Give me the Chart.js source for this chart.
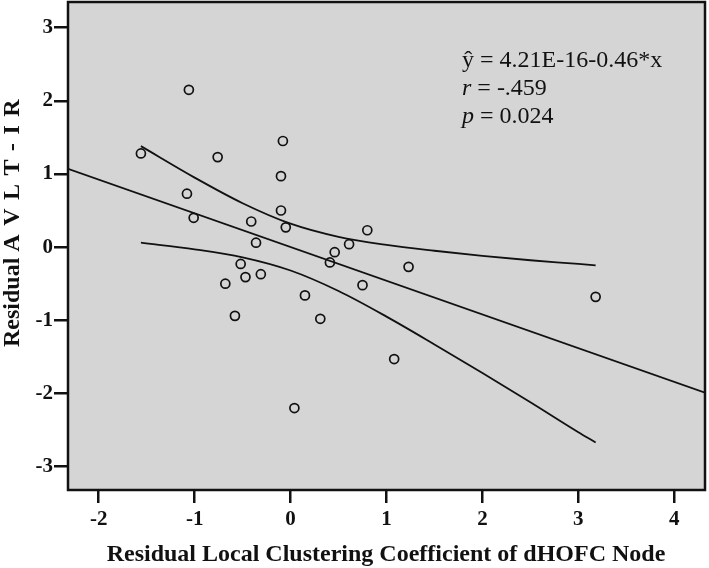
<!DOCTYPE html>
<html>
<head>
<meta charset="utf-8">
<script src="https://cdn.jsdelivr.net/npm/chart.js@4/dist/chart.umd.min.js"></script>
<style>
  body { margin: 0; background: #ffffff; }
  #wrap { width: 709px; height: 568px; position: relative; }
</style>
</head>
<body>
<div id="wrap"><canvas id="scatterChart"></canvas></div>
<script>
// residuals
var xVals = [-1.56, -1.06, -0.76, -0.08, -1.08, -1.01, -0.10, -0.10, -0.05, -0.41, -0.36, -0.52, -0.47, -0.31,
             -0.68, 0.46, 0.41, 0.61, -0.58, 0.15, 0.31, 0.04, 0.80, 0.75, 1.23, 1.08, 3.18];
var yVals = [1.28, 2.15, 1.23, 1.45, 0.73, 0.40, 0.97, 0.50, 0.27, 0.35, 0.06, -0.23, -0.41, -0.37,
             -0.50, -0.07, -0.21, 0.04, -0.94, -0.66, -0.98, -2.20, 0.23, -0.52, -0.27, -1.53, -0.68];

// fit line endpoints
var fitX = [-2.32, 4.32];
var fitY = [1.07, -1.99];

// confidence band
var bandX = [-1.56, -1, -0.5, 0, 0.5, 1, 1.5, 2, 2.5, 3, 3.18];
var bandUpper = [1.38, 0.95, 0.60, 0.32, 0.14, 0.03, -0.05, -0.12, -0.18, -0.23, -0.25];
var bandLower = [0.06, -0.03, -0.14, -0.32, -0.60, -0.95, -1.33, -1.72, -2.12, -2.53, -2.67];

var xTicks = [-2, -1, 0, 1, 2, 3, 4];
var yTicks = [-3, -2, -1, 0, 1, 2, 3];

var xTitle = 'Residual Local Clustering Coefficient of dHOFC Node';
var yTitleA = 'Residual ';
var yTitleB = 'AVLT-IR';

function toPoints(xs, ys) {
    return xs.map(function (x, i) { return { x: x, y: ys[i] }; });
}

var serif = '"Liberation Serif", "Times New Roman", serif';

var frame = {
    id: 'frame',
    beforeDatasetsDraw: function (chart) {
        var a = chart.chartArea, ctx = chart.ctx;
        ctx.save();
        ctx.fillStyle = '#d5d5d5';
        ctx.fillRect(a.left, a.top, a.right - a.left, a.bottom - a.top);
        ctx.restore();
    },
    afterDraw: function (chart) {
        var a = chart.chartArea, ctx = chart.ctx;
        ctx.save();
        ctx.strokeStyle = '#111';
        ctx.lineWidth = 2.5;
        ctx.strokeRect(a.left, a.top, a.right - a.left, a.bottom - a.top);

        // axis titles
        ctx.fillStyle = '#111';
        ctx.font = 'bold 24px ' + serif;
        ctx.textAlign = 'center';
        ctx.textBaseline = 'alphabetic';
        ctx.fillText(xTitle, 386, 561);

        // y title, second word is spaced out in the original
        ctx.translate(19, 347);
        ctx.rotate(-Math.PI / 2);
        ctx.textAlign = 'left';
        ctx.fillText(yTitleA, 0, 0);
        var pos = ctx.measureText(yTitleA).width;
        for (var i = 0; i < yTitleB.length; i++) {
            ctx.fillText(yTitleB[i], pos, 0);
            pos += ctx.measureText(yTitleB[i]).width + 8.5;
        }
        ctx.restore();

        // regression annotation
        ctx.save();
        ctx.fillStyle = '#111';
        ctx.textAlign = 'left';
        ctx.textBaseline = 'alphabetic';
        var x0 = 462;
        ctx.font = '24px ' + serif;
        ctx.fillText('\u0177 = 4.21E-16-0.46*x', x0, 67);
        ctx.font = 'italic 24px ' + serif;
        ctx.fillText('r', x0, 95);
        var w = ctx.measureText('r').width;
        ctx.font = '24px ' + serif;
        ctx.fillText(' = -.459', x0 + w, 95);
        ctx.font = 'italic 24px ' + serif;
        ctx.fillText('p', x0, 123);
        w = ctx.measureText('p').width;
        ctx.font = '24px ' + serif;
        ctx.fillText(' = 0.024', x0 + w, 123);
        ctx.restore();
    }
};

var lineStyle = {
    type: 'line',
    borderColor: '#111',
    borderWidth: 1.8,
    pointRadius: 0,
    fill: false
};

new Chart(document.getElementById('scatterChart'), {
    type: 'scatter',
    data: {
        datasets: [
            Object.assign({}, lineStyle, { data: toPoints(fitX, fitY) }),
            Object.assign({}, lineStyle, { data: toPoints(bandX, bandUpper), cubicInterpolationMode: 'monotone' }),
            Object.assign({}, lineStyle, { data: toPoints(bandX, bandLower), cubicInterpolationMode: 'monotone' }),
            {
                type: 'scatter',
                data: toPoints(xVals, yVals),
                pointRadius: 4.5,
                pointBorderWidth: 1.7,
                pointBorderColor: '#111',
                pointBackgroundColor: 'rgba(0,0,0,0)'
            }
        ]
    },
    options: {
        responsive: true,
        maintainAspectRatio: false,
        animation: false,
        layout: { autoPadding: false, padding: { top: 2, right: 4, left: 0, bottom: 0 } },
        plugins: {
            legend: { display: false },
            tooltip: { enabled: false }
        },
        scales: {
            x: {
                type: 'linear',
                min: -2.32,
                max: 4.32,
                afterFit: function (scale) {
                    scale.height = 78;
                    scale.paddingLeft = 0;
                    scale.paddingRight = 0;
                },
                afterBuildTicks: function (scale) {
                    scale.ticks = xTicks.map(function (v) { return { value: v }; });
                },
                border: { display: false },
                grid: { drawOnChartArea: false, tickLength: 13, color: '#111', lineWidth: 2.5 },
                ticks: {
                    padding: 4,
                    color: '#111',
                    font: { family: serif, size: 21, weight: 'bold' }
                }
            },
            y: {
                type: 'linear',
                min: -3.32,
                max: 3.35,
                afterFit: function (scale) {
                    scale.width = 68;
                    scale.paddingTop = 0;
                    scale.paddingBottom = 0;
                },
                afterBuildTicks: function (scale) {
                    scale.ticks = yTicks.map(function (v) { return { value: v }; });
                },
                border: { display: false },
                grid: { drawOnChartArea: false, tickLength: 14, color: '#111', lineWidth: 2.5 },
                ticks: {
                    padding: 1,
                    color: '#111',
                    font: { family: serif, size: 21, weight: 'bold' }
                }
            }
        }
    },
    plugins: [frame]
});
</script>
</body>
</html>
